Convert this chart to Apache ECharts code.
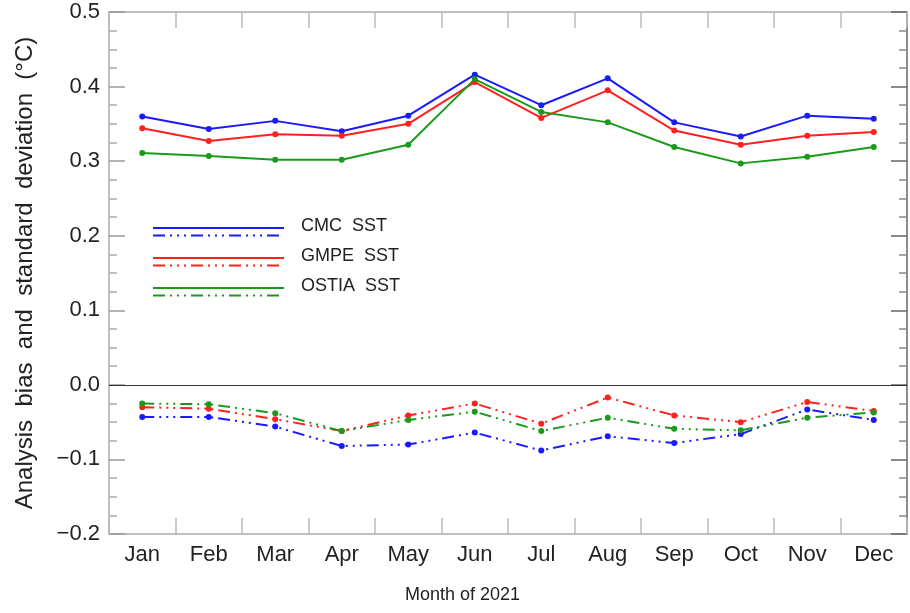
<!DOCTYPE html>
<html>
<head>
<meta charset="utf-8">
<script src="https://cdn.jsdelivr.net/npm/echarts@6/dist/echarts.min.js"></script>
<style>html,body{margin:0;padding:0;background:#fff}#c{width:910px;height:613px}</style>
</head>
<body>
<div id="c"></div>
<script>
const months = ['Jan','Feb','Mar','Apr','May','Jun','Jul','Aug','Sep','Oct','Nov','Dec'];
const cmcStd   = [0.360,0.343,0.354,0.340,0.361,0.416,0.375,0.411,0.352,0.333,0.361,0.357];
const gmpeStd  = [0.344,0.327,0.336,0.334,0.350,0.406,0.358,0.395,0.341,0.322,0.334,0.339];
const ostiaStd = [0.311,0.307,0.302,0.302,0.322,0.410,0.366,0.352,0.319,0.297,0.306,0.319];
const cmcBias   = [-0.043,-0.043,-0.056,-0.082,-0.080,-0.064,-0.088,-0.069,-0.078,-0.066,-0.033,-0.047];
const gmpeBias  = [-0.030,-0.032,-0.046,-0.062,-0.041,-0.025,-0.052,-0.017,-0.041,-0.050,-0.023,-0.035];
const ostiaBias = [-0.025,-0.026,-0.038,-0.062,-0.047,-0.036,-0.062,-0.044,-0.059,-0.061,-0.044,-0.037];
const legendNames = ['CMC  SST','GMPE  SST','OSTIA  SST'];

const BLUE = '#1a1aff', RED = '#ff2020', GREEN = '#1a9a1a';
const DASH = [12,5,2,5,2,5,2,5];
const FONT = 'Liberation Sans';

function solid(name, data, color) {
  return {name, type:'line', data, symbol:'circle', symbolSize:6, color,
    lineStyle:{color, width:2, type:'solid'}, itemStyle:{color}, z:3};
}
function dashed(name, data, color) {
  return {name, type:'line', data, symbol:'circle', symbolSize:6, color,
    lineStyle:{color, width:2, type:DASH}, itemStyle:{color}, z:3};
}
const yFmt = v => (v < -1e-9 ? '\u2212' : '') + Math.abs(v).toFixed(1);

const series = [
  solid(legendNames[0], cmcStd, BLUE),
  solid(legendNames[1], gmpeStd, RED),
  solid(legendNames[2], ostiaStd, GREEN),
  dashed(legendNames[0]+' bias', cmcBias, BLUE),
  dashed(legendNames[1]+' bias', gmpeBias, RED),
  dashed(legendNames[2]+' bias', ostiaBias, GREEN)
];
series[0].markLine = {silent:true, symbol:'none', label:{show:false},
  lineStyle:{color:'#333', width:1, type:'solid'}, data:[{yAxis:0}]};

const legendColors = [BLUE, RED, GREEN];
const legendY = [228, 258, 288];
const graphics = [];
legendNames.forEach((n,i) => {
  graphics.push({type:'line', shape:{x1:153,y1:legendY[i],x2:284,y2:legendY[i]},
    style:{stroke:legendColors[i], lineWidth:2}});
  graphics.push({type:'line', shape:{x1:153,y1:legendY[i]+7.5,x2:284,y2:legendY[i]+7.5},
    style:{stroke:legendColors[i], lineWidth:2, lineDash:DASH}});
  graphics.push({type:'text', left:301, top:legendY[i]-11,
    style:{text:n, fill:'#222', font:'18px "Liberation Sans"'}});
});
graphics.push({type:'text', left:405, top:586,
  style:{text:'Month of 2021', fill:'#222', font:'18px "Liberation Sans"'}});

const chart = echarts.init(document.getElementById('c'));
chart.setOption({
  animation:false,
  backgroundColor:'#fff',
  grid:{left:109, right:3, top:12, bottom:79, containLabel:false},
  xAxis:[{
    type:'category', data:months, boundaryGap:true, position:'bottom',
    axisLine:{show:true, onZero:false, lineStyle:{color:'#aaa', width:1.5}},
    axisTick:{show:true, inside:true, length:16, lineStyle:{color:'#bbb', width:1.5}},
    axisLabel:{interval:0, fontSize:22, color:'#222', fontFamily:FONT, margin:10},
    splitLine:{show:false}
  },{
    type:'category', data:months, boundaryGap:true, position:'top',
    axisLine:{show:true, onZero:false, lineStyle:{color:'#aaa', width:1.5}},
    axisTick:{show:true, inside:true, length:16, lineStyle:{color:'#bbb', width:1.5}},
    axisLabel:{show:false}, splitLine:{show:false}
  }],
  yAxis:[{
    type:'value', min:-0.2, max:0.5, interval:0.1, position:'left',
    name:'Analysis  bias  and  standard  deviation  (\u00B0C)',
    nameLocation:'middle', nameGap:72,
    nameTextStyle:{fontSize:24, color:'#222', fontFamily:FONT},
    axisLine:{show:true, lineStyle:{color:'#aaa', width:1.5}},
    axisTick:{show:true, inside:true, length:16, lineStyle:{color:'#999', width:1.5}},
    minorTick:{show:true, splitNumber:4, length:8, lineStyle:{color:'#aaa', width:1.5}},
    axisLabel:{fontSize:22, color:'#222', fontFamily:FONT, margin:9, formatter:yFmt},
    splitLine:{show:false}, minorSplitLine:{show:false}
  },{
    type:'value', min:-0.2, max:0.5, interval:0.1, position:'right',
    axisLine:{show:true, lineStyle:{color:'#666', width:1.5}},
    axisTick:{show:true, inside:true, length:16, lineStyle:{color:'#666', width:1.5}},
    minorTick:{show:true, splitNumber:4, length:8, lineStyle:{color:'#888', width:1.5}},
    axisLabel:{show:false}, splitLine:{show:false}, minorSplitLine:{show:false}
  }],
  series,
  graphic:graphics
});
</script>
</body>
</html>
